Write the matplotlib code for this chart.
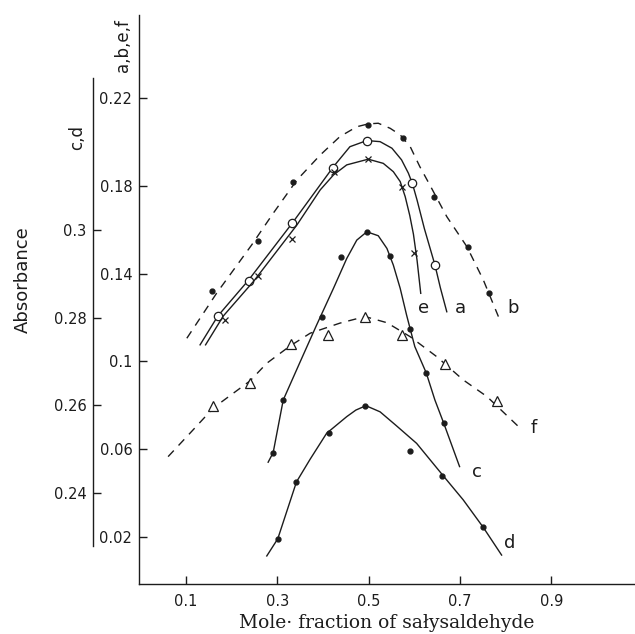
import matplotlib
matplotlib.use("Agg")
import matplotlib.pyplot as plt

# --- data (mole fraction vs absorbance) ---
# curves a, b, e, f use the inner axis; c, d use the outer axis
a_pts_x = [0.170, 0.237, 0.333, 0.423, 0.496, 0.594, 0.645]
a_pts_y = [0.1207, 0.1368, 0.163, 0.1884, 0.2007, 0.1813, 0.1438]
a_line_x = [0.131, 0.170, 0.237, 0.333, 0.423, 0.459, 0.496, 0.525, 0.551, 0.572, 0.587,
            0.596, 0.606, 0.622, 0.645, 0.657, 0.671]
a_line_y = [0.1075, 0.1207, 0.137, 0.1631, 0.1888, 0.1979, 0.2007, 0.2002, 0.1972, 0.1919, 0.1858,
            0.1809, 0.1735, 0.1605, 0.144, 0.1335, 0.1226]

b_pts_x = [0.156, 0.257, 0.334, 0.498, 0.576, 0.644, 0.718, 0.764]
b_pts_y = [0.132, 0.155, 0.182, 0.208, 0.202, 0.175, 0.152, 0.131]
b_line_x = [0.102, 0.167, 0.244, 0.291, 0.343, 0.394, 0.437, 0.474, 0.499, 0.521, 0.547, 0.569,
            0.591, 0.612, 0.634, 0.671, 0.715, 0.751, 0.784]
b_line_y = [0.1105, 0.131, 0.1531, 0.1675, 0.1827, 0.1941, 0.2025, 0.207, 0.2083, 0.2086, 0.2063, 0.2033,
            0.1979, 0.1888, 0.1804, 0.166, 0.1523, 0.1371, 0.1204]

e_pts_x = [0.186, 0.258, 0.332, 0.424, 0.498, 0.573, 0.599]
e_pts_y = [0.1189, 0.1389, 0.1558, 0.1864, 0.1923, 0.1795, 0.1493]
e_line_x = [0.143, 0.182, 0.249, 0.343, 0.394, 0.423, 0.452, 0.499, 0.532, 0.554, 0.569, 0.580,
            0.590, 0.598, 0.606, 0.614]
e_line_y = [0.1075, 0.1207, 0.1367, 0.1622, 0.1782, 0.185, 0.1896, 0.1922, 0.1903, 0.1865, 0.182, 0.1751,
            0.1665, 0.158, 0.146, 0.131]

f_pts_x = [0.160, 0.240, 0.330, 0.411, 0.493, 0.572, 0.667, 0.780]
f_pts_y = [0.0796, 0.0903, 0.1078, 0.112, 0.1204, 0.112, 0.0988, 0.082]
f_line_x = [0.061, 0.109, 0.160, 0.240, 0.277, 0.328, 0.372, 0.437, 0.492, 0.540, 0.591, 0.649, 0.707, 0.759, 0.828]
f_line_y = [0.0565, 0.0672, 0.0787, 0.091, 0.0991, 0.107, 0.1128, 0.1174, 0.1204, 0.1176, 0.1112, 0.1021, 0.0915, 0.0839, 0.0702]

c_pts_x = [0.291, 0.313, 0.398, 0.439, 0.496, 0.547, 0.590, 0.626, 0.664]
c_pts_y = [0.2492, 0.2612, 0.2801, 0.2939, 0.2996, 0.2941, 0.2774, 0.2674, 0.256]
c_line_x = [0.280, 0.291, 0.313, 0.350, 0.386, 0.423, 0.452, 0.474, 0.496, 0.521, 0.540, 0.554,
            0.569, 0.583, 0.601, 0.626, 0.645, 0.664, 0.699]
c_line_y = [0.247, 0.2492, 0.2612, 0.2699, 0.2783, 0.2867, 0.2935, 0.2977, 0.2996, 0.2987, 0.2958, 0.292,
            0.2867, 0.2806, 0.2734, 0.2674, 0.2612, 0.256, 0.246]

d_pts_x = [0.301, 0.342, 0.414, 0.493, 0.591, 0.661, 0.751]
d_pts_y = [0.2295, 0.2425, 0.2537, 0.2599, 0.2496, 0.2438, 0.2321]
d_line_x = [0.277, 0.301, 0.342, 0.372, 0.408, 0.452, 0.472, 0.494, 0.525, 0.561, 0.605, 0.664,
            0.707, 0.751, 0.791]
d_line_y = [0.2256, 0.2295, 0.2425, 0.2477, 0.2536, 0.2574, 0.2589, 0.2599, 0.2585, 0.2553, 0.2513, 0.2438,
            0.2384, 0.2321, 0.2258]

x_ticks = [0.1, 0.3, 0.5, 0.7, 0.9]
x_ticklabels = ["0.1", "0.3", "0.5", "0.7", "0.9"]
main_ticks = [0.02, 0.06, 0.10, 0.14, 0.18, 0.22]
main_ticklabels = ["0.02", "0.06", "0.1", "0.14", "0.18", "0.22"]
cd_ticks = [0.24, 0.26, 0.28, 0.30]
cd_ticklabels = ["0.24", "0.26", "0.28", "0.3"]

ink = "#1c1c1c"
dash = (0, (6, 5))

fig = plt.figure(figsize=(6.35, 6.34), dpi=100)
ax = fig.add_axes([0.2194, 0.0789, 0.7806, 0.8975])
ax2 = ax.twinx()

ax.set_xlim(-0.002, 1.083)
ax.set_ylim(-0.0016, 0.258)
ax2.set_ylim(0.2192, 0.3491)

# curves on the a,b,e,f axis
ax.plot(b_line_x, b_line_y, color=ink, lw=1.0, linestyle=dash)
ax.plot(b_pts_x, b_pts_y, "o", color=ink, ms=3.5)
ax.plot(a_line_x, a_line_y, color=ink, lw=1.0, solid_joinstyle="round")
ax.plot(a_pts_x, a_pts_y, "o", mfc="white", mec=ink, mew=0.9, ms=6)
ax.plot(e_line_x, e_line_y, color=ink, lw=1.0, solid_joinstyle="round")
ax.plot(e_pts_x, e_pts_y, "x", color=ink, mew=0.9, ms=4.5)
ax.plot(f_line_x, f_line_y, color=ink, lw=1.0, linestyle=dash)
ax.plot(f_pts_x, f_pts_y, "^", mfc="white", mec=ink, mew=0.9, ms=7)

# curves on the c,d axis
ax2.plot(c_line_x, c_line_y, color=ink, lw=1.0, solid_joinstyle="round")
ax2.plot(c_pts_x, c_pts_y, "o", color=ink, ms=3.5)
ax2.plot(d_line_x, d_line_y, color=ink, lw=1.0, solid_joinstyle="round")
ax2.plot(d_pts_x, d_pts_y, "o", color=ink, ms=3.5)

# curve letters
for lab, lx, ly in [("e", 0.620, 0.1242), ("a", 0.700, 0.1242), ("b", 0.817, 0.1242),
                    ("f", 0.8605, 0.0695), ("c", 0.7366, 0.0497), ("d", 0.8095, 0.017)]:
    ax.text(lx, ly, lab, fontsize=13, color=ink, ha="center", va="center")

# spines / ticks
for s in ["top", "right"]:
    ax.spines[s].set_visible(False)
for s in ["top", "right", "bottom"]:
    ax2.spines[s].set_visible(False)
ax.spines["left"].set_linewidth(1.0)
ax.spines["bottom"].set_linewidth(1.0)
ax.spines["left"].set_color(ink)
ax.spines["bottom"].set_color(ink)

ax.set_xticks(x_ticks)
ax.set_xticklabels(x_ticklabels)
ax.set_yticks(main_ticks)
ax.set_yticklabels(main_ticklabels)
ax.tick_params(axis="both", direction="in", length=6, width=1.0, color=ink,
               labelsize=10.5, labelcolor=ink, pad=5)
ax.tick_params(axis="x", pad=7)

ax2.spines["left"].set_visible(True)
ax2.spines["left"].set_position(("outward", 33.5))
ax2.spines["left"].set_bounds(0.2279, 0.3348)
ax2.spines["left"].set_linewidth(1.0)
ax2.spines["left"].set_color(ink)
ax2.yaxis.set_ticks_position("left")
ax2.set_yticks(cd_ticks)
ax2.set_yticklabels(cd_ticklabels)
ax2.tick_params(axis="y", direction="in", length=5.5, width=1.0, color=ink,
                labelsize=10.5, labelcolor=ink, pad=4.5)

ax.set_xlabel("Mole\u00b7 fraction of sa\u0142ysaldehyde", fontsize=13.5,
              family="DejaVu Serif", color=ink, labelpad=4)

fig.text(23 / 635, 1 - 280 / 634, "Absorbance", rotation=90, fontsize=13,
         color=ink, ha="center", va="center")
fig.text(77 / 635, 1 - 137 / 634, "c,d", rotation=90, fontsize=12,
         color=ink, ha="center", va="center")
fig.text(123 / 635, 1 - 46 / 634, "a,b,e,f", rotation=90, fontsize=12,
         color=ink, ha="center", va="center")

fig.savefig("out.png", dpi=100)
